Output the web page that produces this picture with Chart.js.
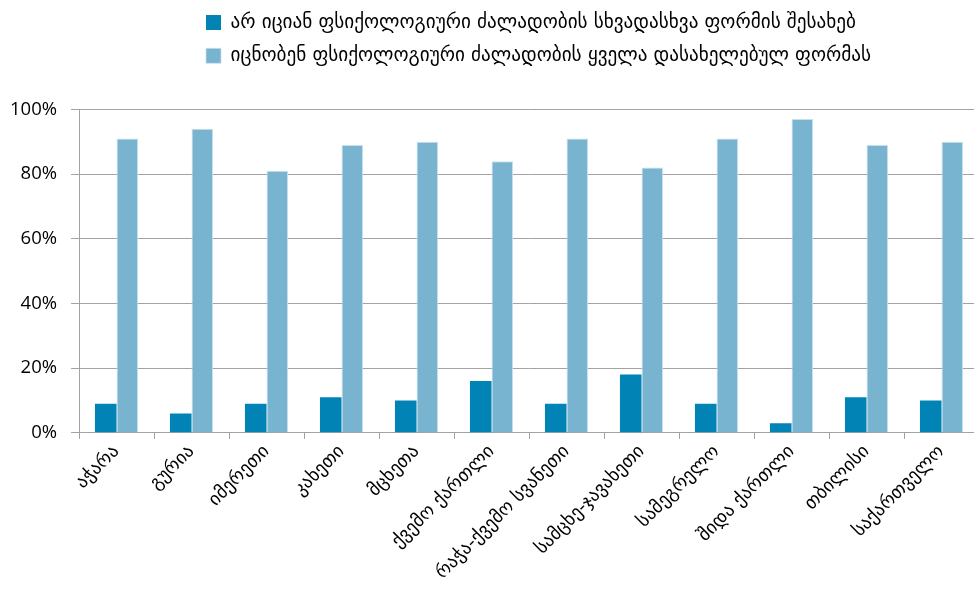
<!DOCTYPE html>
<html>
<head>
<meta charset="utf-8">
<script src="https://cdn.jsdelivr.net/npm/chart.js@4"></script>
<style>
    html, body { margin: 0; padding: 0; background: #ffffff; overflow: hidden; }
    #wrap { position: relative; width: 980px; height: 594px; }
</style>
</head>
<body>
<div id="wrap"><canvas id="regionChart"></canvas></div>
<script>
const regions = ['აჭარა', 'გურია', 'იმერეთი', 'კახეთი', 'მცხეთა', 'ქვემო ქართლი', 'რაჭა-ქვემო სვანეთი', 'სამცხე-ჯავახეთი', 'სამეგრელო', 'შიდა ქართლი', 'თბილისი', 'საქართველო'];
const unawareLabel = 'არ იციან ფსიქოლოგიური ძალადობის სხვადასხვა ფორმის შესახებ';
const awareLabel = 'იცნობენ ფსიქოლოგიური ძალადობის ყველა დასახელებულ ფორმას';
const unaware = [9, 6, 9, 11, 10, 16, 9, 18, 9, 3, 11, 10];
const aware = [91, 94, 81, 89, 90, 84, 91, 82, 91, 97, 89, 90];
const yTicks = [0, 20, 40, 60, 80, 100];

const georgianFont = "'DejaVu Sans', sans-serif";

// legend rows start at the same x, pulled up to the top
const legendShift = {
    id: 'legendShift',
    afterLayout(chart) {
        const lg = chart.legend;
        if (!lg) return;
        lg.left = 192;
        lg.right = chart.chartArea.right;
        lg.top = -1;
        lg.bottom = lg.top + lg.height;
    }
};

function initChart() {
    const ctx = document.getElementById('regionChart').getContext('2d');
    new Chart(ctx, {
        type: 'bar',
        data: {
            labels: regions,
            datasets: [
                { label: unawareLabel, data: unaware, backgroundColor: '#0183b6', borderWidth: 0 },
                { label: awareLabel, data: aware, backgroundColor: '#78b4d0', borderColor: '#c9e0ec', borderWidth: { top: 1, left: 1, right: 1, bottom: 0 } }
            ]
        },
        options: {
            responsive: true,
            maintainAspectRatio: false,
            animation: false,
            layout: { padding: { top: 33, right: 1, left: -4, bottom: 8 } },
            datasets: { bar: { categoryPercentage: 0.575, barPercentage: 1 } },
            scales: {
                x: {
                    grid: { display: true, drawOnChartArea: false, color: '#a3a3a3', tickLength: 6, offset: true },
                    border: { display: true, color: '#a3a3a3' },
                    ticks: { color: '#000000', maxRotation: 45, minRotation: 45, autoSkip: false, padding: 2, font: { family: georgianFont, size: 18.5 } }
                },
                y: {
                    min: 0,
                    max: 100,
                    afterBuildTicks: (axis) => { axis.ticks = yTicks.map(v => ({ value: v })); },
                    grid: { color: '#a3a3a3', lineWidth: 1, tickLength: 8 },
                    border: { display: true, color: '#a3a3a3' },
                    ticks: { color: '#000000', padding: 14, font: { family: "'Open Sans', sans-serif", size: 18.5 }, callback: (v) => v + '%' }
                }
            },
            plugins: {
                legend: {
                    position: 'top',
                    align: 'start',
                    labels: { color: '#000000', boxWidth: 15, boxHeight: 15, padding: 14, font: { family: georgianFont, size: 19.2 } }
                },
                tooltip: { enabled: false }
            }
        },
        plugins: [legendShift]
    });
}

document.addEventListener('DOMContentLoaded', () => {
    initChart();
});
</script>
</body>
</html>
